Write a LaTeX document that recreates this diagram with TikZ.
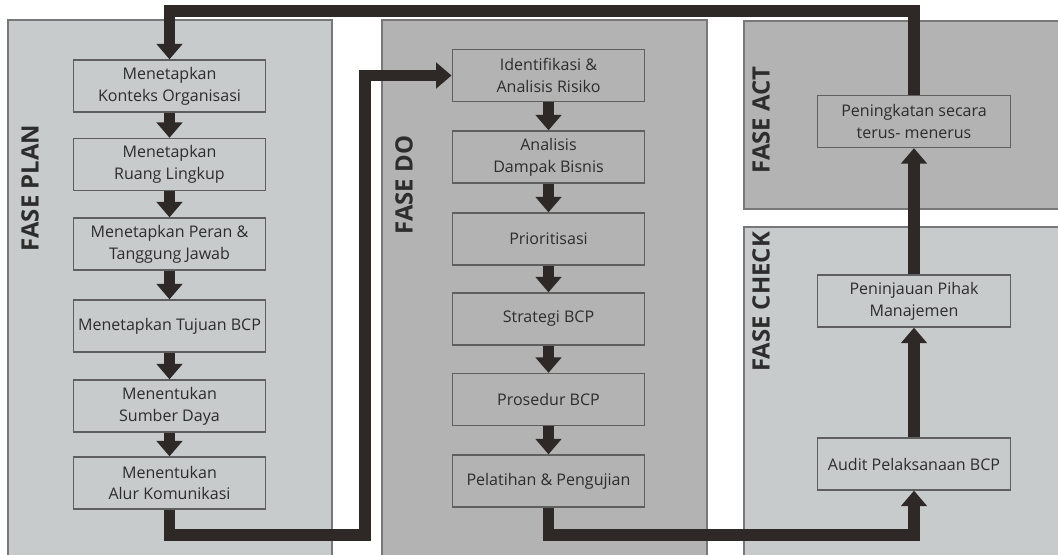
\documentclass[tikz,border=0pt]{standalone}
\usepackage{fontspec}
\setmainfont{Open Sans}
\usetikzlibrary{arrows.meta}
\definecolor{lightpanel}{RGB}{200,203,203}
\definecolor{darkpanel}{RGB}{179,179,179}
\definecolor{panelline}{RGB}{120,120,120}
\definecolor{boxline}{RGB}{95,95,95}
\definecolor{arrowc}{RGB}{46,40,38}
\definecolor{textc}{RGB}{45,45,45}

\begin{document}
\begin{tikzpicture}[x=0.025cm, y=-0.025cm]
        % ================= styles =================
        \tikzset{
            % process boxes
            stepbox/.style={draw=boxline, line width=0.9pt, minimum width=137pt, minimum height=37pt,
                inner sep=1pt, align=center, text=textc, font=\fontsize{11.4}{15.6}\selectfont},
            % phase panels
            panel/.style={draw=panelline, line width=1.1pt},
            % phase titles (vertical)
            phase/.style={rotate=90, text=textc, font=\fontsize{17}{20}\selectfont\bfseries},
            % thick flow arrows
            flow/.style={draw=arrowc, line width=8.5pt, -{Triangle[width=18pt,length=11pt]}}
        }
        \useasboundingbox (0,0) rectangle (1058,554);

        % ================= panels =================
        \filldraw[panel, fill=lightpanel] (8,20) rectangle (332,560);
        \filldraw[panel, fill=darkpanel] (382,20) rectangle (707,560);
        \filldraw[panel, fill=darkpanel] (744,21) rectangle (1064,209);
        \filldraw[panel, fill=lightpanel] (744,227) rectangle (1064,560);

        \node[phase] (tplan) at (30,188) {FASE PLAN};
        \node[phase] (tdo) at (404,185) {FASE DO};
        \node[phase] (tact) at (761,120) {FASE ACT};
        \node[phase] (tcheck) at (761,302) {FASE CHECK};

        % ================= FASE PLAN =================
        \node[stepbox, fill=lightpanel] (plan1) at (169.5,86) {Menetapkan\\Konteks Organisasi};
        \node[stepbox, fill=lightpanel] (plan2) at (169.5,164.5) {Menetapkan\\Ruang Lingkup};
        \node[stepbox, fill=lightpanel] (plan3) at (169.5,244) {Menetapkan Peran \&\\Tanggung Jawab};
        \node[stepbox, fill=lightpanel] (plan4) at (169.5,326) {Menetapkan Tujuan BCP};
        \node[stepbox, fill=lightpanel] (plan5) at (169.5,406) {Menentukan\\Sumber Daya};
        \node[stepbox, fill=lightpanel] (plan6) at (169.5,483) {Menentukan\\Alur Komunikasi};

        % ================= FASE DO =================
        \node[stepbox, fill=darkpanel] (do1) at (548.5,75.5) {Identifikasi \&\\Analisis Risiko};
        \node[stepbox, fill=darkpanel] (do2) at (548.5,157) {Analisis\\Dampak Bisnis};
        \node[stepbox, fill=darkpanel] (do3) at (548.5,239) {Prioritisasi};
        \node[stepbox, fill=darkpanel] (do4) at (548.5,319) {Strategi BCP};
        \node[stepbox, fill=darkpanel] (do5) at (548.5,399.5) {Prosedur BCP};
        \node[stepbox, fill=darkpanel] (do6) at (548.5,481) {Pelatihan \& Pengujian};

        % ================= FASE CHECK / ACT =================
        \node[stepbox, fill=lightpanel] (audit) at (914,464) {Audit Pelaksanaan BCP};
        \node[stepbox, fill=lightpanel] (review) at (914,301) {Peninjauan Pihak\\Manajemen};
        \node[stepbox, fill=darkpanel] (improve) at (914,121.5) {Peningkatan secara\\terus- menerus};

        % --- 1. arrows inside the phases ---
        \foreach \a/\b in {plan1/plan2, plan2/plan3, plan3/plan4, plan4/plan5, plan5/plan6,
                           do1/do2, do2/do3, do3/do4, do4/do5, do5/do6,
                           audit/review, review/improve}
            \draw[flow] (\a) -- (\b);

        % --- 2. arrows between the phases ---
        \coordinate (planturn) at (365,535);
        \coordinate (doturn) at (914,535);
        \draw[flow] (plan6.south) |- (planturn) |- (do1.west);
        \draw[flow] (do6.south) |- (doturn) -- (audit.south);
        \draw[flow] (improve.north) -- (improve.north |- 0,11) -| (plan1.north);

\end{tikzpicture}
\end{document}
